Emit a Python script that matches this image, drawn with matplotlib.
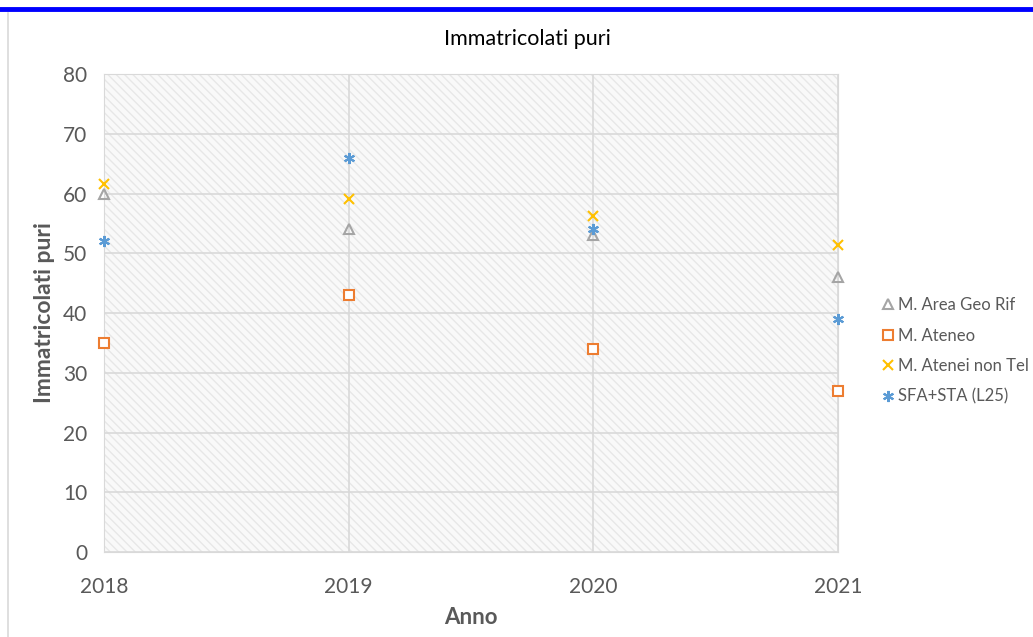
import matplotlib.pyplot as plt
from matplotlib.patches import Rectangle
from matplotlib.lines import Line2D

anni = [2018, 2019, 2020, 2021]
area_geo = [60, 54, 53, 46]
ateneo = [35, 43, 34, 27]
atenei_non_tel = [61.6, 59, 56.2, 51.4]
sfa_sta = [52, 66, 54, 39]

plt.rcParams['font.family'] = ['Lato', 'DejaVu Sans']
plt.rcParams['hatch.linewidth'] = 1.0
txt = '#595959'

fig = plt.figure(figsize=(10.33, 6.37), dpi=100)
ax = fig.add_axes([0.1007, 0.1334, 0.7105, 0.7504])

# hatched plot area background
ax.add_patch(Rectangle((0, 0), 1, 1, transform=ax.transAxes, facecolor='#f9f9f9',
                       edgecolor='#e7e7e7', hatch='\\\\\\\\', lw=0, zorder=0))

ax.set_xlim(2018, 2021)
ax.set_ylim(0, 80)
ax.set_xticks(anni)
ax.set_yticks(range(0, 81, 10))
ax.grid(True, color='#d9d9d9', lw=1.2, zorder=1)
ax.set_axisbelow(True)
for s in ax.spines.values():
    s.set_color('#d9d9d9')
ax.tick_params(length=0, labelsize=15, colors=txt)
ax.tick_params(axis='x', pad=18)
ax.tick_params(axis='y', pad=12)

ax.plot(anni, area_geo, ls='none', marker='^', ms=6.5, mfc='none', mec='#a5a5a5', mew=1.5,
        label='M. Area Geo Rif', zorder=3, clip_on=False)
ax.plot(anni, ateneo, ls='none', marker='s', ms=7, mfc='white', mec='#ed7d31', mew=1.5,
        label='M. Ateneo', zorder=3, clip_on=False)
ax.plot(anni, atenei_non_tel, ls='none', marker='x', ms=7, mec='#ffc000', mew=1.5,
        label='M. Atenei non Tel', zorder=3, clip_on=False)
ax.plot(anni, sfa_sta, ls='none', marker=(6, 2, 0), ms=8, mec='#5b9bd5', mew=1.5,
        label='SFA+STA (L25)', zorder=3, clip_on=False)

fig.text(0.511, 0.938, 'Immatricolati puri', fontsize=15.5, color='black', ha='center', va='center')
ax.set_xlabel('Anno', fontsize=16, fontweight='bold', color=txt, labelpad=7)
ax.set_ylabel('Immatricolati puri', fontsize=16.5, fontweight='bold', color=txt, labelpad=6)

leg = fig.legend(loc='upper left', bbox_to_anchor=(0.845, 0.544), frameon=False,
                 fontsize=12, handletextpad=0.1, labelspacing=0.87, handlelength=1.0,
                 borderaxespad=0)
for t in leg.get_texts():
    t.set_color(txt)

# blue top band and left border of the image
fig.add_artist(Line2D([0, 1], [0.986, 0.986], transform=fig.transFigure, color='#0000ff', lw=3.5))
fig.add_artist(Line2D([0.008, 0.008], [0, 0.98], transform=fig.transFigure, color='#d9d9d9', lw=1.2))

fig.savefig('out.png', dpi=100)
